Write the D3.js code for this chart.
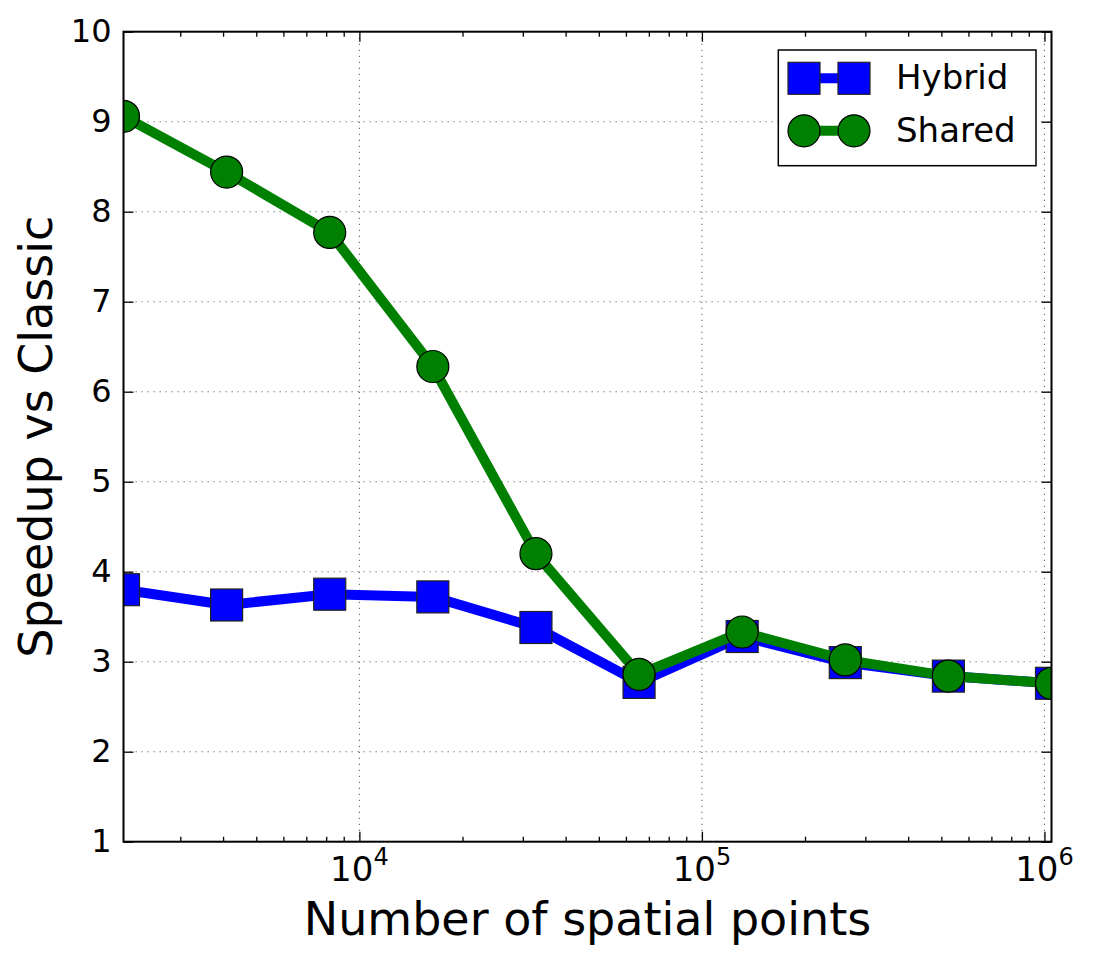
<!DOCTYPE html>
<html>
<head>
<meta charset="utf-8">
<script src="https://cdn.jsdelivr.net/npm/d3@7"></script>
<style>
  body { margin: 0; background: #fff; }
  svg { display: block; font-family: "DejaVu Sans", sans-serif; }
</style>
</head>
<body>
<div id="chart"></div>
<script>
// spatial points: 2^11 .. 2^20
const points = [2048, 4096, 8192, 16384, 32768, 65536, 131072, 262144, 524288, 1048576];
const hybrid = [3.80, 3.63, 3.75, 3.72, 3.38, 2.77, 3.28, 2.99, 2.84, 2.76];
const shared = [9.06, 8.44, 7.77, 6.28, 4.20, 2.86, 3.33, 3.02, 2.84, 2.76];
const yTicks = [1, 2, 3, 4, 5, 6, 7, 8, 9, 10];
const xMajor = [1e4, 1e5, 1e6];
const xMinor = [3e3, 4e3, 5e3, 6e3, 7e3, 8e3, 9e3,
                2e4, 3e4, 4e4, 5e4, 6e4, 7e4, 8e4, 9e4,
                2e5, 3e5, 4e5, 5e5, 6e5, 7e5, 8e5, 9e5];

const width = 1096, height = 960;
const marginLeft = 123.5, marginRight = 44.5, marginTop = 31.7, marginBottom = 118.3;

const x = d3.scaleLog()
    .domain([2048, 1048576])
    .range([marginLeft, width - marginRight]);
const y = d3.scaleLinear()
    .domain([1, 10])
    .range([height - marginBottom, marginTop]);

const svg = d3.select("#chart").append("svg")
    .attr("width", width)
    .attr("height", height);

svg.append("rect").attr("width", width).attr("height", height).attr("fill", "#fff");

svg.append("clipPath").attr("id", "plot-clip")
  .append("rect")
    .attr("x", marginLeft).attr("y", marginTop)
    .attr("width", x.range()[1] - marginLeft)
    .attr("height", y.range()[0] - marginTop);

// grid lines (dotted)
const grid = svg.append("g")
    .attr("stroke", "#000")
    .attr("stroke-opacity", 0.6)
    .attr("stroke-width", 1.1)
    .attr("stroke-dasharray", "1.2,4.8");
grid.selectAll(".gy").data(yTicks.slice(1, -1)).join("line")
    .attr("x1", marginLeft).attr("x2", x.range()[1])
    .attr("y1", d => y(d)).attr("y2", d => y(d));
grid.selectAll(".gx").data(xMajor).join("line")
    .attr("x1", d => x(d)).attr("x2", d => x(d))
    .attr("y1", marginTop).attr("y2", y.range()[0]);

// axes with inward ticks
const tickStyle = g => {
  g.select(".domain").remove();
  g.selectAll(".tick line").attr("stroke", "#000").attr("stroke-width", 1.3);
};

svg.append("g")
    .attr("transform", `translate(${marginLeft},0)`)
    .call(d3.axisLeft(y).tickValues(yTicks).tickSize(-10).tickPadding(12).tickFormat(d3.format("d")))
    .call(tickStyle)
    .call(g => g.selectAll(".tick text")
        .attr("fill", "#000")
        .style("font-size", "32px")
        .style("font-family", "DejaVu Sans, sans-serif"));

svg.append("g")
    .attr("transform", `translate(${x.range()[1]},0)`)
    .call(d3.axisRight(y).tickValues(yTicks).tickSize(-10).tickFormat(""))
    .call(tickStyle);

svg.append("g")
    .attr("transform", `translate(0,${y.range()[0]})`)
    .call(d3.axisBottom(x).tickValues(xMajor).tickSize(-10).tickFormat(""))
    .call(tickStyle);
svg.append("g")
    .attr("transform", `translate(0,${y.range()[0]})`)
    .call(d3.axisBottom(x).tickValues(xMinor).tickSize(-5).tickFormat(""))
    .call(tickStyle);
svg.append("g")
    .attr("transform", `translate(0,${marginTop})`)
    .call(d3.axisTop(x).tickValues(xMajor).tickSize(-10).tickFormat(""))
    .call(tickStyle);
svg.append("g")
    .attr("transform", `translate(0,${marginTop})`)
    .call(d3.axisTop(x).tickValues(xMinor).tickSize(-5).tickFormat(""))
    .call(tickStyle);

// x tick labels 10^n
const xLabels = svg.append("g").attr("fill", "#000");
xMajor.forEach(v => {
  const t = xLabels.append("text")
      .attr("x", x(v))
      .attr("y", y.range()[0] + 39)
      .attr("text-anchor", "middle")
      .style("font-size", "34px");
  t.append("tspan").text("10");
  t.append("tspan").attr("dy", -16).style("font-size", "24px").text(Math.round(Math.log10(v)));
});

// series
const series = [
  {name: "Hybrid", values: hybrid, color: "#0000ff", shape: "square"},
  {name: "Shared", values: shared, color: "#008000", shape: "circle"}
];
const markerSize = 32;

const drawMarker = (g, shape, color, cx, cy) => {
  if (shape === "square") {
    g.append("rect")
        .attr("x", cx - markerSize / 2).attr("y", cy - markerSize / 2)
        .attr("width", markerSize).attr("height", markerSize)
        .attr("fill", color).attr("stroke", "#222").attr("stroke-width", 1.2);
  } else {
    g.append("circle")
        .attr("cx", cx).attr("cy", cy).attr("r", markerSize / 2)
        .attr("fill", color).attr("stroke", "#000").attr("stroke-width", 1.2);
  }
};

const line = d3.line().x(d => x(d[0])).y(d => y(d[1]));
const plot = svg.append("g").attr("clip-path", "url(#plot-clip)");

series.forEach(s => {
  const pts = points.map((p, i) => [p, s.values[i]]);
  const g = plot.append("g");
  g.append("path")
      .datum(pts)
      .attr("d", line)
      .attr("fill", "none")
      .attr("stroke", s.color)
      .attr("stroke-width", 10)
      .attr("stroke-linejoin", "round");
  pts.forEach(d => drawMarker(g, s.shape, s.color, x(d[0]), y(d[1])));
});

// frame
svg.append("rect")
    .attr("x", marginLeft).attr("y", marginTop)
    .attr("width", x.range()[1] - marginLeft)
    .attr("height", y.range()[0] - marginTop)
    .attr("fill", "none").attr("stroke", "#000").attr("stroke-width", 2);

// axis labels
svg.append("text")
    .attr("x", (marginLeft + x.range()[1]) / 2)
    .attr("y", 935)
    .attr("text-anchor", "middle")
    .style("font-size", "46px")
    .text("Number of spatial points");

svg.append("text")
    .attr("transform", `translate(52,${(marginTop + y.range()[0]) / 2}) rotate(-90)`)
    .attr("text-anchor", "middle")
    .style("font-size", "46px")
    .text("Speedup vs Classic");

// legend
const legend = svg.append("g");
legend.append("rect")
    .attr("x", 778.3).attr("y", 50)
    .attr("width", 257.7).attr("height", 115.7)
    .attr("fill", "#fff").attr("stroke", "#000").attr("stroke-width", 1.5);
series.forEach((s, i) => {
  const ly = 78.3 + i * 52.5;
  legend.append("line")
      .attr("x1", 804).attr("x2", 854)
      .attr("y1", ly).attr("y2", ly)
      .attr("stroke", s.color).attr("stroke-width", 10);
  drawMarker(legend, s.shape, s.color, 804, ly);
  drawMarker(legend, s.shape, s.color, 854, ly);
  legend.append("text")
      .attr("x", 896).attr("y", ly + 11)
      .style("font-size", "34px")
      .text(s.name);
});
</script>
</body>
</html>
